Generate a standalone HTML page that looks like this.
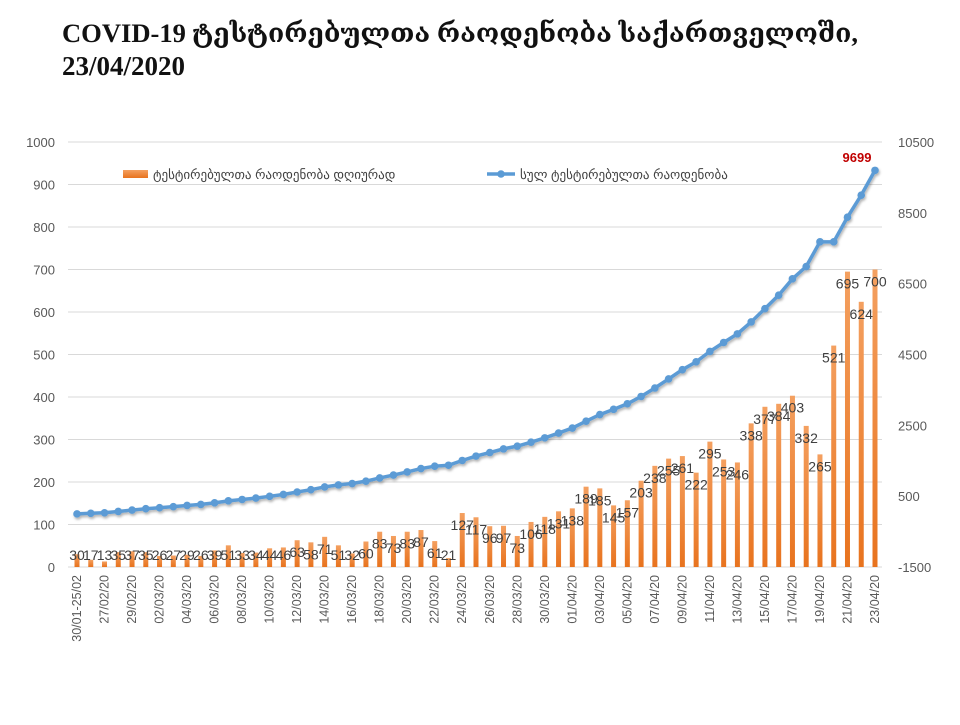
<!DOCTYPE html><html><head><meta charset="utf-8"><style>
body{margin:0;background:#fff;width:960px;height:720px;overflow:hidden;font-family:"Liberation Sans",sans-serif}
</style></head><body>
<svg id="s" width="960" height="720" xmlns="http://www.w3.org/2000/svg">
<defs><linearGradient id="g" x1="0" y1="0" x2="0" y2="1"><stop offset="0" stop-color="#f4a060"/><stop offset="1" stop-color="#e8731e"/></linearGradient>
<filter id="sh"><feDropShadow dx="1" dy="2" stdDeviation="1.2" flood-color="#000" flood-opacity="0.3"/></filter></defs>
<text x="62" y="42" font-family="Liberation Serif,DejaVu Serif,serif" font-weight="bold" font-size="26" fill="#111" textLength="796" lengthAdjust="spacingAndGlyphs">COVID-19 ტესტირებულთა რაოდენობა საქართველოში,</text>
<text x="62" y="75" font-family="Liberation Serif,serif" font-weight="bold" font-size="27" fill="#111">23/04/2020</text>
</svg>
<script>
const s=document.getElementById('s');let h='';
const y0=567,k=0.425;
for(let v=0;v<=1000;v+=100){const y=y0-v*k;h+=`<line x1="68" x2="882" y1="${y}" y2="${y}" stroke="#d9d9d9"/>`;
h+=`<text x="55" y="${y+5}" text-anchor="end" font-size="13" fill="#595959">${v}</text>`;}
for(let r=-1500;r<=10500;r+=2000){const y=y0-(r+1500)/12*k;h+=`<text x="898" y="${y+5}" font-size="13" fill="#595959">${r}</text>`;}
const d=[30,17,13,35,37,35,26,27,29,26,39,51,33,34,44,46,63,58,71,51,32,60,83,73,83,87,61,44,21,127,117,96,97,73,106,118,131,138,189,185,145,157,203,238,255,261,222,295,253,246,338,377,384,403,332,265,521,695,624,700];
d.splice(27,1);
const n=d.length,x0=77,dx=(875-77)/(n-1);
let dates=['30/01-25/02'];let dt=new Date(2020,1,26);
for(let i=1;i<n;i++){dates.push(String(dt.getDate()).padStart(2,'0')+'/'+String(dt.getMonth()+1).padStart(2,'0')+'/20');dt.setDate(dt.getDate()+1);}
let cum=[],c=0;for(let i=0;i<n;i++){c+=d[i];cum.push(c);}
const st=0,en=9699;const sc=(en-st)/(cum[n-1]-cum[0]);
let cvs=[];
for(let i=0;i<n;i++){let cv=st+(cum[i]-cum[0])*sc;const t=i/(n-1);cv+=Math.sin(Math.PI*t)*250*t;cvs.push(cv);}
cvs[n-5]=cvs[n-4];cvs[n-6]+=80;cvs[n-7]+=60;
let pts=[];
for(let i=0;i<n;i++){const x=x0+i*dx;const bh=d[i]*k;
h+=`<rect x="${x-2.5}" y="${y0-bh}" width="5" height="${bh}" fill="url(#g)"/>`;
const yy=y0-(cvs[i]+1500)/12*k;pts.push([x,yy]);
if(i%2==0)h+=`<text transform="translate(${x+4},575) rotate(-90)" text-anchor="end" font-size="12.5" fill="#595959">${dates[i]}</text>`;}
h+=`<g filter="url(#sh)"><polyline fill="none" stroke="#5b9bd5" stroke-width="3.5" points="${pts.map(p=>p.join(',')).join(' ')}"/>`;
pts.forEach(p=>h+=`<circle cx="${p[0]}" cy="${p[1]}" r="3.8" fill="#5b9bd5"/>`);h+='</g>';
for(let i=0;i<n;i++){const x=x0+i*dx;const ly=Math.min(y0-d[i]*k+17,560);
h+=`<text x="${x}" y="${ly}" text-anchor="middle" font-size="14" fill="#404040">${d[i]}</text>`;}
h+=`<text x="857" y="162" text-anchor="middle" font-size="13" font-weight="bold" fill="#c00000">9699</text>`;
h+=`<rect x="123" y="170" width="25" height="8" fill="url(#g)"/><text x="153" y="179" font-size="13" fill="#404040">ტესტირებულთა რაოდენობა დღიურად</text>`;
h+=`<line x1="487" x2="515" y1="174" y2="174" stroke="#5b9bd5" stroke-width="3.5"/><circle cx="501" cy="174" r="3.8" fill="#5b9bd5"/><text x="520" y="179" font-size="13" fill="#404040">სულ ტესტირებულთა რაოდენობა</text>`;
s.insertAdjacentHTML('beforeend',h);
</script></body></html>
